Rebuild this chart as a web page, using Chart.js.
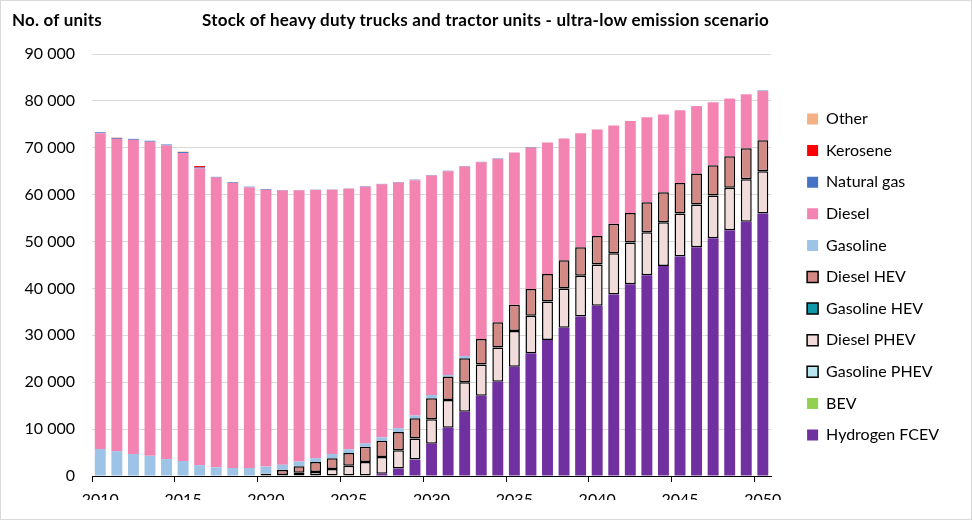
<!DOCTYPE html>
<html>
<head>
<meta charset="utf-8">
<script src="https://cdn.jsdelivr.net/npm/chart.js@4"></script>
<style>
  html, body { margin: 0; padding: 0; background: #fff; }
  #wrap { position: relative; width: 972px; height: 520px; }
  #frame { position: absolute; left: 0; top: 0; width: 972px; height: 520px; box-sizing: border-box; border: 1px solid #d9d9d9; pointer-events: none; }
  .lbl { position: absolute; top: 9px; font-family: Lato, 'Open Sans', sans-serif; font-weight: bold; font-size: 17px; color: #000; white-space: nowrap; }
</style>
</head>
<body>
<div id="wrap">
  <canvas id="grafico" width="972" height="520"></canvas>
  <div class="lbl" id="unidade" style="left:12px">No. of units</div>
  <div class="lbl" id="titulo" style="left:202px">Stock of heavy duty trucks and tractor units - ultra-low emission scenario</div>
  <div id="frame"></div>
</div>
<script>
// anos (categorias)
const anos = ['2010', '2011', '2012', '2013', '2014', '2015', '2016', '2017', '2018', '2019',
  '2020', '2021', '2022', '2023', '2024', '2025', '2026', '2027', '2028', '2029',
  '2030', '2031', '2032', '2033', '2034', '2035', '2036', '2037', '2038', '2039',
  '2040', '2041', '2042', '2043', '2044', '2045', '2046', '2047', '2048', '2049', '2050'];

// valores (numero de unidades)
const hidrogenioFCEV = [0, 0, 0, 0, 0, 0, 0, 0, 0, 0,
  0, 0, 0, 0, 0, 0, 0, 500, 1600, 3500,
  6900, 10300, 13700, 17100, 20100, 23300, 26200, 29000, 31600, 34000,
  36300, 38700, 40900, 42800, 44800, 46800, 48800, 50700, 52400, 54200, 56000];
const bev = [0, 0, 0, 0, 0, 0, 0, 0, 0, 0,
  0, 0, 0, 0, 0, 0, 0, 0, 0, 0,
  0, 0, 0, 0, 0, 0, 0, 0, 0, 0,
  0, 0, 0, 0, 0, 0, 0, 0, 0, 0, 0];
const gasolinaPHEV = [0, 0, 0, 0, 0, 0, 0, 0, 0, 0,
  0, 0, 0, 0, 0, 0, 0, 0, 0, 0,
  0, 0, 0, 0, 0, 0, 0, 0, 0, 0,
  0, 0, 0, 0, 0, 0, 0, 0, 0, 0, 0];
const dieselPHEV = [0, 0, 0, 0, 0, 0, 0, 0, 0, 0,
  0, 200, 700, 850, 1500, 2200, 3000, 3550, 3900, 4500,
  5200, 5900, 6300, 6700, 7300, 7600, 8000, 8200, 8400, 8700,
  8800, 8800, 8900, 9200, 9300, 9200, 9100, 9100, 9100, 9100, 9000];
const gasolinaHEV = [0, 0, 0, 0, 0, 0, 0, 0, 0, 0,
  0, 0, 0, 0, 0, 0, 0, 0, 0, 0,
  0, 0, 0, 0, 0, 0, 0, 0, 0, 0,
  0, 0, 0, 0, 0, 0, 0, 0, 0, 0, 0];
const dieselHEV = [0, 0, 0, 0, 0, 0, 0, 0, 0, 0,
  500, 1100, 1400, 2150, 2300, 2700, 3250, 3450, 3900, 4300,
  4500, 5000, 5100, 5400, 5400, 5600, 5700, 5900, 6000, 6100,
  6100, 6300, 6300, 6400, 6400, 6500, 6600, 6500, 6700, 6600, 6600];
const gasolina = [5750, 5300, 4700, 4300, 3600, 3200, 2300, 1850, 1700, 1700,
  1500, 1100, 1000, 800, 900, 800, 700, 750, 800, 600,
  700, 350, 500, 0, 0, 0, 0, 0, 0, 0,
  0, 0, 0, 0, 0, 0, 0, 0, 0, 0, 0];
const diesel = [67350, 66600, 67000, 67000, 66900, 65700, 63300, 61800, 60850, 59850,
  59050, 58500, 57850, 57200, 56350, 55550, 54750, 53950, 52400, 50200,
  46800, 43450, 40400, 37700, 34800, 32500, 30100, 28000, 26000, 24300,
  22700, 20950, 19600, 18100, 16600, 15500, 14400, 13400, 12300, 11500, 10500];
const gasNatural = [200, 200, 200, 200, 200, 200, 200, 150, 150, 150,
  150, 100, 50, 50, 50, 50, 100, 100, 100, 100,
  100, 100, 100, 100, 100, 0, 100, 0, 0, 0,
  0, 0, 0, 0, 0, 0, 0, 0, 0, 0, 100];
const querosene = [0, 0, 0, 0, 0, 0, 300, 0, 0, 0,
  0, 0, 0, 0, 0, 0, 0, 0, 0, 0,
  0, 0, 0, 0, 0, 0, 0, 0, 0, 0,
  0, 0, 0, 0, 0, 0, 0, 0, 0, 0, 0];
const outros = [0, 100, 0, 0, 0, 100, 0, 0, 0, 0,
  0, 0, 0, 0, 0, 0, 0, 0, 0, 0,
  0, 0, 0, 0, 0, 0, 0, 0, 0, 0,
  0, 0, 0, 0, 0, 0, 0, 0, 0, 0, 0];

const marcasY = [0, 10000, 20000, 30000, 40000, 50000, 60000, 70000, 80000, 90000];

const fonte = "Lato, 'Open Sans', sans-serif";
Chart.defaults.font.family = fonte;
Chart.defaults.color = '#000000';

// ajusta o espacamento das letras dos textos do topo
function ajustarLargura(id, largura) {
    const el = document.getElementById(id);
    const w = el.getBoundingClientRect().width;
    el.style.letterSpacing = ((largura - w) / el.textContent.length) + 'px';
}
ajustarLargura('titulo', 567);
ajustarLargura('unidade', 90);

function serie(label, data, cor, borda) {
    return {
        label: label,
        data: data,
        backgroundColor: cor,
        borderColor: '#000000',
        borderWidth: borda,
        borderSkipped: false,
        barPercentage: 0.66,
        categoryPercentage: 1
    };
}

// ordem de empilhamento: de baixo para cima
let chartData = {
    labels: anos,
    datasets: [
        serie('Hydrogen FCEV', hidrogenioFCEV, '#7030A0', 0),
        serie('BEV', bev, '#92D050', 0),
        serie('Gasoline PHEV', gasolinaPHEV, '#B7E6EE', 1.5),
        serie('Diesel PHEV', dieselPHEV, '#F2DCDB', 1.5),
        serie('Gasoline HEV', gasolinaHEV, '#0E98A8', 1.5),
        serie('Diesel HEV', dieselHEV, '#D38A84', 1.5),
        serie('Gasoline', gasolina, '#9DC3E6', 0),
        serie('Diesel', diesel, '#F384B2', 0),
        serie('Natural gas', gasNatural, '#4472C4', 0),
        serie('Kerosene', querosene, '#FF0000', 0),
        serie('Other', outros, '#F4B183', 0)
    ]
};

const pad = 15.6;
let espacoLegenda = 20;

function formatar(v) {
    return String(v).replace(/\B(?=(\d{3})+(?!\d))/g, ' ');
}

const config = {
    type: 'bar',
    data: chartData,
    options: {
        responsive: false,
        animation: false,
        layout: { padding: { left: 12, right: 30, top: 54, bottom: 20 } },
        scales: {
            x: {
                stacked: true,
                grid: {
                    drawOnChartArea: false,
                    drawTicks: true,
                    tickLength: 6,
                    color: (ctx) => (ctx.index % 5 === 0 ? '#000000' : 'transparent')
                },
                border: { display: true, color: '#000000', width: 1 },
                ticks: {
                    autoSkip: false,
                    maxRotation: 0,
                    padding: 8,
                    font: { size: 16 },
                    callback: (val, i) => (i % 5 === 0 ? anos[i] : '')
                },
                afterFit: (s) => { s.height = 24; }
            },
            y: {
                stacked: true,
                min: 0,
                max: 90000,
                grid: { color: '#D9D9D9', drawTicks: false },
                border: { display: false },
                afterBuildTicks: (s) => { s.ticks = marcasY.map(v => ({ value: v })); },
                ticks: {
                    padding: 17,
                    font: { size: 16 },
                    callback: (v) => formatar(v)
                },
                afterFit: (s) => { s.width = 80; }
            },
            espaco: {
                type: 'linear',
                position: 'right',
                grid: { display: false },
                border: { display: false },
                ticks: { display: false },
                afterFit: (s) => { s.width = espacoLegenda; }
            }
        },
        plugins: {
            tooltip: { enabled: false },
            legend: {
                position: 'right',
                reverse: true,
                labels: {
                    boxWidth: 11,
                    boxHeight: 11,
                    padding: pad,
                    font: { size: 16 },
                    color: '#000000'
                }
            }
        }
    }
};

let myChart = new Chart(document.getElementById('grafico'), config);

// reposiciona: area do grafico termina em x = 772 e a caixa da legenda comeca em x = 808
const larguraLegenda = myChart.legend.width;
const inicioLegenda = 808 - pad;
myChart.options.layout.padding.right = 972 - inicioLegenda - larguraLegenda;
espacoLegenda = inicioLegenda - 772;
myChart.update();
</script>
</body>
</html>
